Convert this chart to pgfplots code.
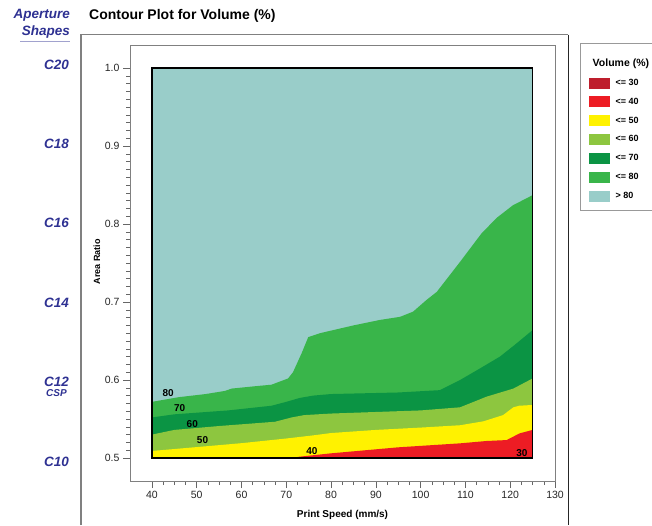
\documentclass[border=0pt]{standalone}
\usepackage{fontspec}
\setmainfont{Liberation Sans}
\usepackage{pgfplots}
\pgfplotsset{compat=1.18}
\definecolor{cThirty}{HTML}{BE1E2D}
\definecolor{cForty}{HTML}{ED1C24}
\definecolor{cFifty}{HTML}{FFF200}
\definecolor{cSixty}{HTML}{8DC63F}
\definecolor{cSeventy}{HTML}{0B9444}
\definecolor{cEighty}{HTML}{39B54A}
\definecolor{cTeal}{HTML}{99CDC9}
\definecolor{apblue}{HTML}{2E3192}
\pgfplotsset{swatch/.style={legend image code/.code={\fill[#1] (0pt,-5pt) rectangle (20pt,5pt);}}}
\begin{document}
\begin{tikzpicture}
\path[use as bounding box] (0pt,0pt) rectangle (652pt,-525pt);
% outer frame
\draw[gray, line width=1.5pt] (81pt,-525pt) -- (81pt,-34.5pt) -- (568pt,-34.5pt);
\draw[black!85, line width=0.9pt] (568pt,-34.5pt) -- (568pt,-525pt);
% aperture shapes
\begin{scope}[every node/.style={anchor=east, text=apblue, inner sep=0pt, font=\bfseries\itshape\fontsize{13.5}{15}\selectfont}]
\node at (70pt,-15pt) {Aperture};
\node at (70pt,-32pt) {Shapes};
\node at (69pt,-65pt) {C20};
\node at (69pt,-144pt) {C18};
\node at (69pt,-223pt) {C16};
\node at (69pt,-303pt) {C14};
\node at (69pt,-381.5pt) {C12};
\node[font=\bfseries\itshape\fontsize{10}{11}\selectfont] at (67pt,-393.5pt) {CSP};
\node at (69pt,-461.5pt) {C10};
\end{scope}
\draw[apblue!45, line width=1pt] (20pt,-41pt) -- (70pt,-41pt);
\begin{axis}[
  at={(130pt,-481pt)}, anchor=south west,
  scale only axis, width=425pt, height=436pt,
  xmin=35.1, xmax=130, ymin=0.4705, ymax=1.0295,
  xtick={40,50,...,130}, ytick={0.5,0.6,0.7,0.8,0.9,1.0},
  minor x tick num=3, minor y tick num=9,
  tick align=outside, xtick pos=bottom, ytick pos=left,
  major tick length=7pt, minor tick length=4pt,
  axis line style={gray, line width=1pt},
  every tick/.style={gray!80!black, line width=0.6pt},
  /pgf/number format/assume math mode=true,
  yticklabel style={/pgf/number format/.cd, fixed, fixed zerofill, precision=1},
  ticklabel style={font=\fontsize{10.5}{12}\selectfont, text=black!85},
  xlabel={Print Speed (mm/s)},
  ylabel={Area Ratio},
  xlabel style={at={(axis description cs:0.5,-0.078)}, anchor=center, font=\bfseries\fontsize{10}{12}\selectfont},
  ylabel style={at={(axis description cs:-0.078,0.503)}, anchor=center, font=\bfseries\fontsize{9}{11}\selectfont},
  title={Contour Plot for Volume (\%)},
  title style={at={(axis description cs:-0.0965,1.0534)}, anchor=west, inner sep=0pt, font=\bfseries\fontsize{14}{16}\selectfont},
  legend style={at={(axis description cs:1.0588,1.0039)}, anchor=north west, draw=gray!80, line width=0.8pt,
    font=\bfseries\fontsize{9}{10}\selectfont, inner xsep=9pt, inner ysep=9.5pt, row sep=8pt,
    nodes={inner sep=1.5pt},
    /tikz/every odd column/.append style={column sep=4pt}},
  legend cell align=left,
]
\addplot[fill=cTeal, draw=none, forget plot] coordinates {(40,0.5)(125,0.5)(125,1)(40,1)};
\addplot[fill=cEighty, draw=none, forget plot] coordinates {(40,0.5)(40,0.572)(46,0.578)(52,0.582)(56.3,0.586)(57.8,0.589)(63,0.592)(66.7,0.594)(70.4,0.602)(71.5,0.610)(73.4,0.634)(74.9,0.655)(77.5,0.660)(80.5,0.664)(85,0.670)(90.9,0.677)(95.4,0.681)(98.3,0.6876)(101.3,0.7026)(103.6,0.713)(108.6,0.750)(113.6,0.788)(117,0.808)(120.6,0.824)(125,0.837)(125,0.5)};
\addplot[fill=cSeventy, draw=none, forget plot] coordinates {(40,0.5)(40,0.552)(45,0.556)(57,0.561)(66.7,0.567)(70,0.572)(73,0.577)(76,0.580)(80,0.582)(95,0.584)(104.3,0.587)(108.8,0.600)(113,0.614)(117.7,0.630)(121,0.645)(125,0.664)(125,0.5)};
\addplot[fill=cSixty, draw=none, forget plot] coordinates {(40,0.5)(40,0.530)(45,0.536)(55,0.541)(67.5,0.5465)(71.2,0.552)(74,0.555)(80,0.557)(90,0.559)(100,0.561)(108.8,0.565)(114.7,0.5786)(120.7,0.589)(125,0.602)(125,0.5)};
\addplot[fill=cFifty, draw=none, forget plot] coordinates {(40,0.5)(40,0.509)(50,0.514)(60,0.519)(70,0.525)(76,0.529)(80,0.532)(90,0.536)(100,0.539)(108.8,0.542)(114,0.547)(118.4,0.555)(120.7,0.565)(122,0.567)(125,0.568)(125,0.5)};
\addplot[fill=cForty, draw=none, forget plot] coordinates {(71,0.5)(73,0.5017)(80,0.506)(95,0.5137)(108.8,0.5188)(114.7,0.5218)(119.2,0.523)(122.1,0.5316)(125,0.536)(125,0.5)};
\addplot[black, line width=1.2pt, forget plot] coordinates {(40,0.5)(125,0.5)(125,1)(40,1)(40,0.5)(125,0.5)};
\begin{scope}[every node/.style={font=\bfseries\fontsize{10}{12}\selectfont, inner sep=0pt}]
\node at (axis cs:43.6,0.583) {80};
\node at (axis cs:46.2,0.564) {70};
\node at (axis cs:49,0.5436) {60};
\node at (axis cs:51.3,0.523) {50};
\node at (axis cs:75.7,0.509) {40};
\node at (axis cs:122.6,0.506) {30};
\end{scope}
\addlegendimage{empty legend}
\addlegendentry{\hspace*{-23pt}\rule{0pt}{12pt}\fontsize{10.5}{12}\selectfont Volume (\%)}
\addlegendimage{swatch=cThirty}\addlegendentry{<= 30}
\addlegendimage{swatch=cForty}\addlegendentry{<= 40}
\addlegendimage{swatch=cFifty}\addlegendentry{<= 50}
\addlegendimage{swatch=cSixty}\addlegendentry{<= 60}
\addlegendimage{swatch=cSeventy}\addlegendentry{<= 70}
\addlegendimage{swatch=cEighty}\addlegendentry{<= 80}
\addlegendimage{swatch=cTeal}\addlegendentry{> 80}
\end{axis}
\end{tikzpicture}
\end{document}
